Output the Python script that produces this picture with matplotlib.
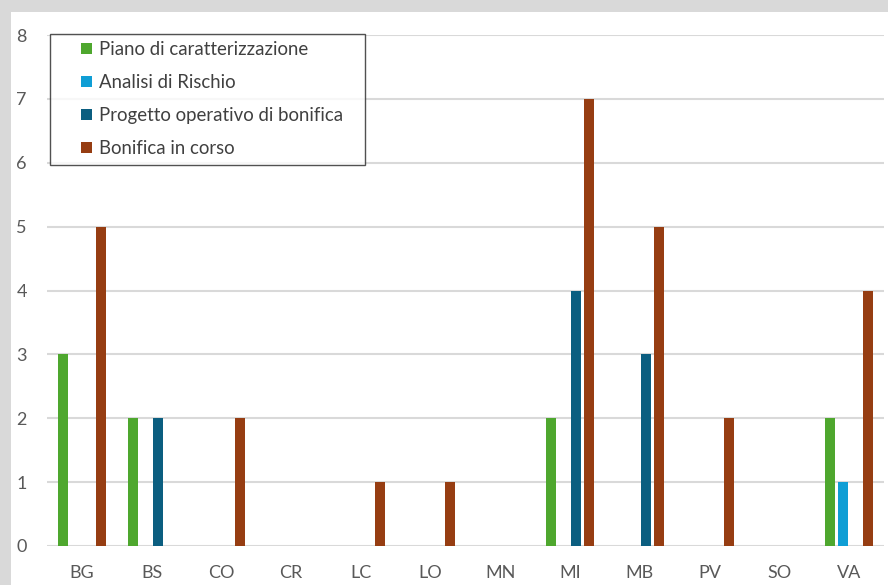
import matplotlib
matplotlib.use("Agg")
import matplotlib.pyplot as plt
import numpy as np
from matplotlib.patches import Rectangle
from matplotlib.legend_handler import HandlerPatch

categories = ["BG", "BS", "CO", "CR", "LC", "LO", "MN", "MI", "MB", "PV", "SO", "VA"]
piano = [3, 2, 0, 0, 0, 0, 0, 2, 0, 0, 0, 2]
analisi = [0, 0, 0, 0, 0, 0, 0, 0, 0, 0, 0, 1]
progetto = [0, 2, 0, 0, 0, 0, 0, 4, 3, 0, 0, 0]
bonifica = [5, 0, 2, 0, 1, 1, 0, 7, 5, 2, 0, 4]
series_names = ["Piano di caratterizzazione", "Analisi di Rischio",
                "Progetto operativo di bonifica", "Bonifica in corso"]
colors = ["#4EA72E", "#0F9ED5", "#0B5E80", "#963D12"]

plt.rcParams['font.family'] = ['Lato', 'DejaVu Sans']

fig = plt.figure(figsize=(8.88, 5.85), dpi=100)
fig.patch.set_facecolor("#D9D9D9")
fig.patches.append(Rectangle((11 / 888, 0), 1, 1 - 12 / 585, transform=fig.transFigure,
                             facecolor="white", edgecolor="none", zorder=-10))

ax = fig.add_axes([47 / 888, 39 / 585, 837 / 888, 511 / 585])
ax.set_facecolor("none")
ax.set_zorder(5)

x = np.arange(len(categories))
step = 0.182
width = 0.143
for i, (vals, name, c) in enumerate(zip([piano, analisi, progetto, bonifica], series_names, colors)):
    ax.bar(x + (i - 1.5) * step, vals, width=width, color=c, label=name, zorder=3)

ax.set_xlim(-0.5, len(categories) - 0.5)
ax.set_ylim(0, 8)
ax.set_yticks(range(0, 9))
ax.set_xticks(x)
ax.set_xticklabels(categories)
ax.grid(axis="y", color="#D9D9D9", linewidth=1.5, zorder=0)
for s in ax.spines.values():
    s.set_visible(False)
ax.tick_params(axis="both", length=0, labelsize=13, labelcolor="#595959")
ax.tick_params(axis="y", pad=14.5)
ax.tick_params(axis="x", pad=14)


def square_patch(legend, orig_handle, xdescent, ydescent, width, height, fontsize):
    s = 10.5 * 72 / 100
    return Rectangle((width - xdescent - s, -ydescent + (height - s) / 2), s, s)


handles = [Rectangle((0, 0), 1, 1, facecolor=c, edgecolor="none") for c in colors]
leg = ax.legend(handles, series_names,
                loc="upper left", bbox_to_anchor=(3 / 837, 0, 315 / 837, 1.0 + 1 / 511),
                mode="expand", fontsize=13.4,
                handler_map={Rectangle: HandlerPatch(patch_func=square_patch)},
                frameon=True, fancybox=False, handlelength=1.86, handleheight=0.55,
                handletextpad=0.37, labelspacing=0.86, borderpad=0.39, borderaxespad=0)
leg.get_frame().set_edgecolor("#262626")
leg.get_frame().set_linewidth(1.0)
for t in leg.get_texts():
    t.set_color("#404040")

fig.savefig("out.png", dpi=100, facecolor=fig.get_facecolor())
